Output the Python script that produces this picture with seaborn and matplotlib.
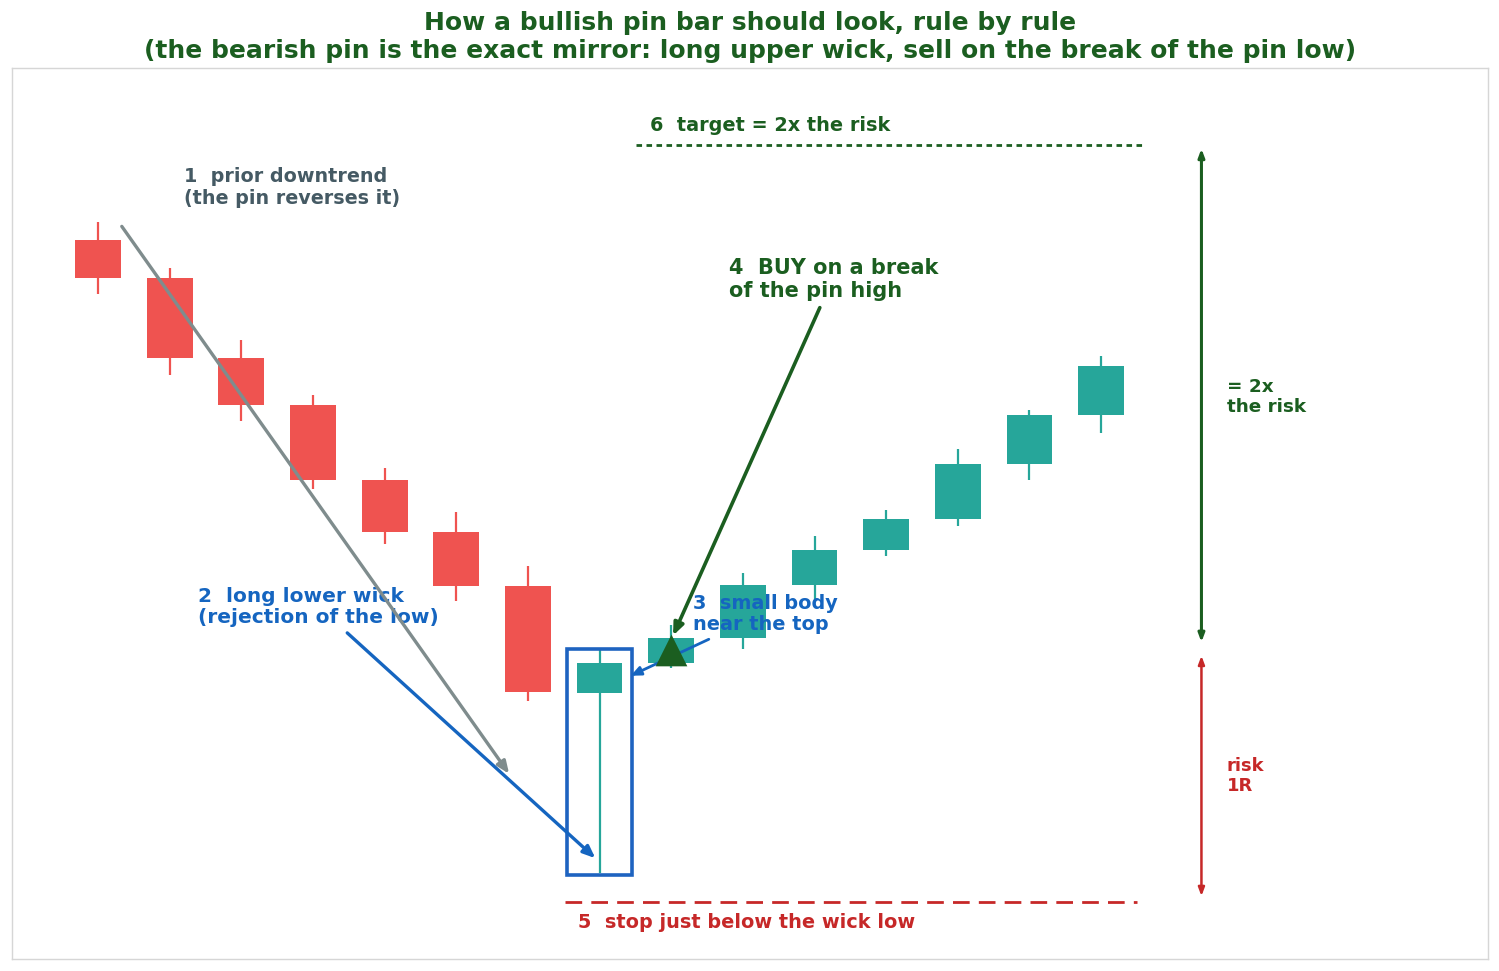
import numpy as np
import pandas as pd
import matplotlib
matplotlib.use("Agg")
import matplotlib.pyplot as plt
import seaborn as sns
from matplotlib.patches import Rectangle

# ---- data (price units) ----
candle_idx = list(range(15))
opens  = [116.24, 114.73, 111.58, 109.68, 106.71, 104.68, 102.54, 98.28, 99.47, 100.46, 102.56, 103.95, 105.18, 107.36, 109.30]
closes = [114.73, 111.58, 109.68, 106.71, 104.68, 102.54, 98.32, 99.47, 100.46, 102.56, 103.95, 105.18, 107.36, 109.30, 111.24]
highs  = [116.95, 115.13, 112.27, 110.10, 107.21, 105.46, 103.32, 100.03, 100.98, 103.04, 104.51, 105.54, 107.95, 109.50, 111.64]
lows   = [114.10, 110.90, 109.08, 106.38, 104.20, 101.94, 97.97, 91.15, 99.27, 100.03, 101.97, 103.71, 104.90, 106.73, 108.60]
entry_price = 100.0
stop_price = 90.0
target_price = 120.0

title_lines = ["How a bullish pin bar should look, rule by rule",
               "(the bearish pin is the exact mirror: long upper wick, sell on the break of the pin low)"]

RED = "#EF5350"
TEAL = "#26A69A"
DKGREEN = "#1B5E20"
BLUE = "#1565C0"
STOPRED = "#C62828"
SLATE = "#455A64"

sns.set_theme(style="white")
plt.rcParams['font.family'] = ['DejaVu Sans']

df = pd.DataFrame({"i": candle_idx, "open": opens, "close": closes, "high": highs, "low": lows})
df["bull"] = df["close"] >= df["open"]
df["color"] = np.where(df["bull"], TEAL, RED)

fig = plt.figure(figsize=(14.99, 9.71), dpi=100)
ax = fig.add_axes([0.008, 0.0124, 0.9847, 0.9176])

# wicks
ax.vlines(df["i"], df["low"], df["high"], colors=df["color"], linewidth=1.6, zorder=2)
# bodies
ax.bar(df["i"], (df["close"] - df["open"]).abs(), bottom=df[["open", "close"]].min(axis=1),
       width=0.64, color=df["color"], linewidth=0, zorder=3)

ax.set_xlim(-1.2, 19.4)
ax.set_ylim(87.74, 123.06)
ax.set_xticks([])
ax.set_yticks([])
for s in ax.spines.values():
    s.set_visible(True)
    s.set_color("#d6d6d6")
    s.set_linewidth(1.0)

# pin box
pin = 7
ax.add_patch(Rectangle((pin - 0.45, lows[pin] - 0.08), 0.9, highs[pin] - lows[pin] + 0.08,
                       fill=False, edgecolor="#1E63C0", linewidth=2.6, zorder=4))

# target / stop lines
ax.plot([7.51, 14.58], [target_price, target_price], color=DKGREEN, lw=2, dashes=(2.0, 1.6), zorder=2)
ax.plot([6.52, 14.5], [stop_price, stop_price], color=STOPRED, lw=2, dashes=(6, 3.3), zorder=2)

# entry marker
sns.scatterplot(x=[pin + 1], y=[entry_price], marker="^", s=520, color=DKGREEN,
                edgecolor=DKGREEN, linewidth=0, zorder=6, ax=ax, legend=False)

# 1 prior downtrend
ax.text(1.2, 119.12, "1  prior downtrend\n(the pin reverses it)", color=SLATE, fontsize=13.8,
        fontweight="bold", va="top", ha="left", linespacing=1.15)
ax.annotate("", xy=(5.76, 94.99), xytext=(0.31, 116.87),
            arrowprops=dict(arrowstyle="-|>,head_length=0.6,head_width=0.25", color="#7F8C8D", lw=2.4), zorder=5)

# 2 long lower wick
ax.text(1.40, 102.48, "2  long lower wick\n(rejection of the low)", color=BLUE, fontsize=14.5,
        fontweight="bold", va="top", ha="left", linespacing=1.1)
ax.annotate("", xy=(6.97, 91.66), xytext=(3.45, 100.74),
            arrowprops=dict(arrowstyle="-|>,head_length=0.6,head_width=0.25", color=BLUE, lw=2.4), zorder=5)

# 3 small body
ax.text(8.31, 102.22, "3  small body\nnear the top", color=BLUE, fontsize=13.9,
        fontweight="bold", va="top", ha="left", linespacing=1.15, zorder=7)
ax.annotate("", xy=(7.40, 98.92), xytext=(8.56, 100.46),
            arrowprops=dict(arrowstyle="-|>,head_length=0.5,head_width=0.22", color=BLUE, lw=2), zorder=5)

# 4 BUY
ax.text(8.81, 115.52, "4  BUY on a break\nof the pin high", color=DKGREEN, fontsize=15,
        fontweight="bold", va="top", ha="left", linespacing=1.15)
ax.annotate("", xy=(8.01, 100.46), xytext=(10.09, 113.66),
            arrowprops=dict(arrowstyle="-|>,head_length=0.6,head_width=0.25", color=DKGREEN, lw=2.6), zorder=5)

# 5 stop
ax.text(6.70, 89.17, "5  stop just below the wick low", color=STOPRED, fontsize=13.9,
        fontweight="bold", va="center", ha="left")

# 6 target
ax.text(7.71, 120.76, "6  target = 2x the risk", color=DKGREEN, fontsize=13.9,
        fontweight="bold", va="center", ha="left")

# R arrows
ax.annotate("", xy=(15.4, 119.97), xytext=(15.4, 100.19),
            arrowprops=dict(arrowstyle="<|-|>,head_length=0.4,head_width=0.15", color=DKGREEN, lw=2.2))
ax.annotate("", xy=(15.4, 99.87), xytext=(15.4, 90.12),
            arrowprops=dict(arrowstyle="<|-|>,head_length=0.4,head_width=0.15", color=STOPRED, lw=1.8))
ax.text(15.75, 110.02, "= 2x\nthe risk", color=DKGREEN, fontsize=13.2, fontweight="bold",
        va="center", ha="left", linespacing=1.17)
ax.text(15.75, 94.99, "risk\n1R", color=STOPRED, fontsize=13, fontweight="bold",
        va="center", ha="left", linespacing=1.17)

ax.set_title("\n".join(title_lines), color=DKGREEN, fontsize=18, fontweight="bold",
             pad=7, linespacing=1.2)

fig.savefig("out.png", dpi=100)
